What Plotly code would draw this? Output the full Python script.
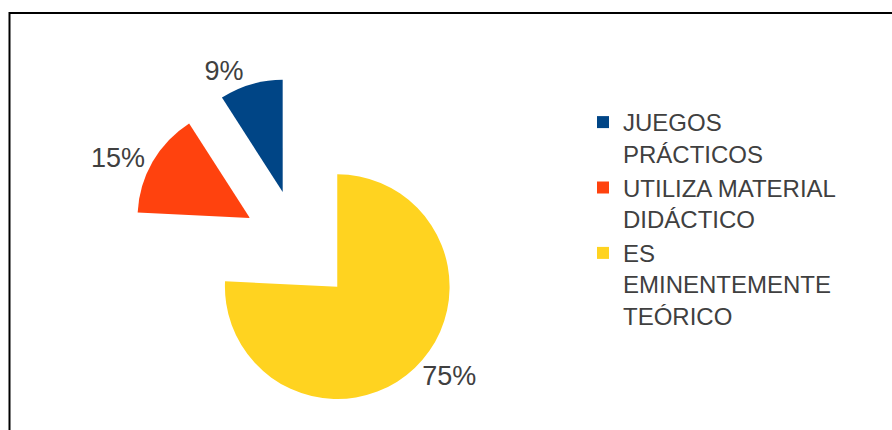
import plotly.graph_objects as go

# Data
labels = ["JUEGOS<br>PRÁCTICOS", "UTILIZA MATERIAL<br>DIDÁCTICO", "ES<br>EMINENTEMENTE<br>TEÓRICO"]
values = [9, 15, 75]
pct_text = ["9%", "15%", "75%"]
colors = ["#004586", "#ff420e", "#ffd320"]

W, H = 892, 430

fig = go.Figure(
    go.Pie(
        labels=labels,
        values=values,
        text=pct_text,
        textinfo="text",
        textposition="outside",
        textfont=dict(family="Liberation Sans, Arial, sans-serif", size=27, color="#404040"),
        marker=dict(colors=colors, line=dict(width=0)),
        pull=[0.5, 0.5, 0.5],
        sort=False,
        direction="counterclockwise",
        rotation=-360 * values[0] / sum(values),
        automargin=False,
        hoverinfo="label+percent",
        domain=dict(x=[130 / W, 467 / W], y=[1 - 414.5 / H, 1 - 77.5 / H]),
    )
)

fig.update_layout(
    width=W,
    height=H,
    margin=dict(l=0, r=0, t=0, b=0, pad=0, autoexpand=False),
    paper_bgcolor="white",
    plot_bgcolor="white",
    showlegend=True,
    legend=dict(
        x=583 / W,
        xanchor="left",
        y=1 - 100 / H,
        yanchor="top",
        valign="top",
        font=dict(family="Liberation Sans, Arial, sans-serif", size=24, color="#404040"),
        bgcolor="rgba(0,0,0,0)",
        tracegroupgap=0,
    ),
    shapes=[
        dict(
            type="rect",
            xref="paper",
            yref="paper",
            x0=9.5 / W,
            x1=1.1,
            y0=-0.1,
            y1=1 - 13 / H,
            line=dict(color="black", width=2),
            fillcolor="rgba(0,0,0,0)",
            layer="above",
        )
    ],
)

fig.write_html("out.html")
